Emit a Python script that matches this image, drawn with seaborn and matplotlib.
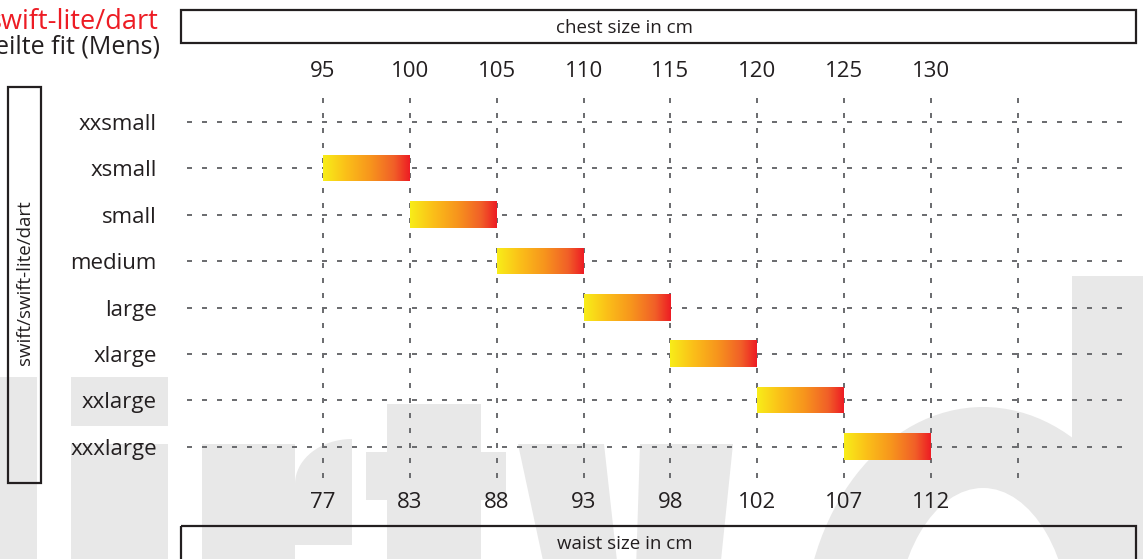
import numpy as np
import pandas as pd
import matplotlib
matplotlib.use("Agg")
import matplotlib.pyplot as plt
import seaborn as sns
from matplotlib.colors import LinearSegmentedColormap
from matplotlib.patches import Polygon, Rectangle, Ellipse

# size chart data
sizes = ["xxsmall", "xsmall", "small", "medium", "large", "xlarge", "xxlarge", "xxxlarge"]
chest_ticks = [95, 100, 105, 110, 115, 120, 125, 130]
waist_ticks = [77, 83, 88, 93, 98, 102, 107, 112]
chest_from = [None, 95, 100, 105, 110, 115, 120, 125]
chest_to = [None, 100, 105, 110, 115, 120, 125, 130]

starts = [chest_ticks.index(a) if a is not None else 0 for a in chest_from]
spans = [chest_ticks.index(b) - chest_ticks.index(a) if a is not None else 0
         for a, b in zip(chest_from, chest_to)]
df = pd.DataFrame({"size": sizes, "start": starts, "span": spans})

sns.set_theme(style="white")
plt.rcParams["font.family"] = ["Open Sans", "DejaVu Sans"]

W, H = 1143, 559
ink = "#231f20"
grey_wm = "#e8e8e8"
fig = plt.figure(figsize=(W / 100, H / 100), dpi=100)

# background layer in pixel coordinates (watermark letters, boxes, titles)
bg = fig.add_axes([0, 0, 1, 1], zorder=0)
bg.set_xlim(0, W)
bg.set_ylim(H, 0)
bg.axis("off")

for x, y, w, h in [(0, 377, 37, 200), (71, 377, 97, 49), (71, 444, 97, 200),
                   (202, 444, 93, 200), (387, 404, 94, 200), (366, 452, 140, 48)]:
    bg.add_patch(Rectangle((x, y), w, h, color=grey_wm, lw=0))

t = np.linspace(np.pi, np.pi / 2, 20)
shoulder = [(352 + 57 * np.cos(a), 484 - 45 * np.sin(a)) for a in t] + [(352, 545), (295, 545)]
bg.add_patch(Polygon(shoulder, closed=True, color=grey_wm, lw=0))
bg.add_patch(Polygon([(518, 444), (604, 444), (618, 570), (545, 570)], color=grey_wm, lw=0))
bg.add_patch(Polygon([(640, 444), (733, 444), (720, 570), (636, 570)], color=grey_wm, lw=0))
bg.add_patch(Ellipse((983, 640), 360, 466, color=grey_wm, lw=0))
bg.add_patch(Ellipse((983, 640), 178, 304, color="white", lw=0))
bg.add_patch(Rectangle((1072, 276), 80, 300, color=grey_wm, lw=0))

for x, y, w, h in [(181, 10, 955, 33), (181, 526, 955, 45), (8, 87, 33, 396)]:
    bg.add_patch(Rectangle((x, y), w, h, fill=False, edgecolor=ink, lw=1.6))

bg.text(158, 29, "swift-lite/dart", color="#ed1c24", fontsize=19.5, ha="right", va="baseline")
bg.text(160, 53, "eilte fit (Mens)", color=ink, fontsize=18, ha="right", va="baseline")
bg.text(625, 33, "chest size in cm", color=ink, fontsize=13.5, ha="center", va="baseline")
bg.text(625, 549, "waist size in cm", color=ink, fontsize=13.5, ha="center", va="baseline")
bg.text(25, 283, "swift/swift-lite/dart", color=ink, fontsize=13.5, rotation=90,
        ha="center", va="center")

# main chart
ax = fig.add_axes([187 / W, 1 - 478 / H, (1130 - 187) / W, (478 - 88) / H], zorder=1)
ax.patch.set_alpha(0)

sns.barplot(data=df, x="span", y="size", left=df["start"], order=sizes, orient="h",
            width=0.56, errorbar=None, ax=ax, color="#f7941d")

cmap = LinearSegmentedColormap.from_list(
    "heat", [(0, "#f8ed18"), (0.28, "#fbbd19"), (0.55, "#f7941d"), (0.82, "#f15f28"), (1, "#ed1c24")])
grad = np.linspace(0, 1, 256).reshape(1, -1)
for p in list(ax.patches):
    w = p.get_width()
    if w > 0:
        x0, y0, h = p.get_x(), p.get_y(), p.get_height()
        ax.imshow(grad, extent=(x0, x0 + w, y0 + h, y0), cmap=cmap, aspect="auto",
                  interpolation="bilinear", zorder=3)
    p.set_visible(False)

ax.set_xlim(-1.565, 9.29)
ax.set_ylim(7.67, -0.73)
ax.set_xticks(range(9))
ax.set_xticklabels([str(v) for v in waist_ticks] + [""])
ax.set_yticks(range(len(sizes)))
ax.set_yticklabels(sizes)
ax.set_xlabel("")
ax.set_ylabel("")
ax.set_axisbelow(True)
ax.grid(True, axis="both", color="#6d6e71", lw=1.44, linestyle=(0, (2.5, 5)))
ax.tick_params(axis="x", length=0, pad=10, labelsize=16, labelcolor=ink)
ax.tick_params(axis="y", length=0, pad=21.6, labelsize=16, labelcolor=ink)
sns.despine(ax=ax, left=True, bottom=True)

top = ax.secondary_xaxis("top")
top.set_xticks(range(9), labels=[str(v) for v in chest_ticks] + [""])
top.tick_params(length=0, pad=4, labelsize=16, labelcolor=ink)
top.spines["top"].set_visible(False)

fig.savefig("out.png", dpi=100)
